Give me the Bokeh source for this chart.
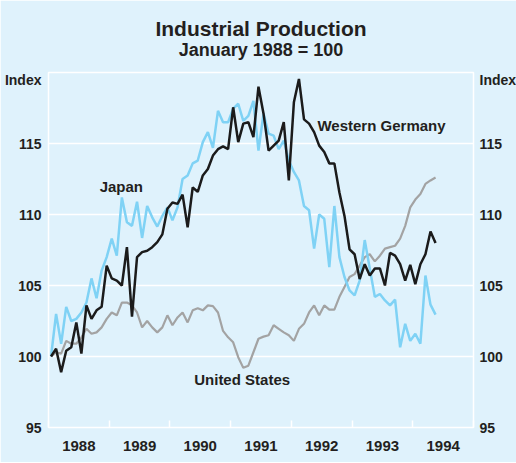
import numpy as np
from bokeh.plotting import figure
from bokeh.models import FixedTicker, LinearAxis, Label, Title, Range1d, ColumnDataSource
from bokeh.embed import file_html
from bokeh.resources import INLINE

# ---- data (monthly, Jan 1988 = 100) ----
japan = [100.0, 103.0, 100.9, 103.5, 102.5, 102.65, 103.1, 103.8, 105.5, 104.1, 106.05, 107.0,
         108.3, 107.1, 111.2, 109.45, 109.2, 110.9, 108.35, 110.6, 109.8, 109.15, 109.9, 110.5,
         109.6, 110.5, 112.5, 112.75, 113.6, 113.8, 115.1, 115.8, 114.7, 117.3, 116.5, 116.5,
         117.45, 117.8, 116.6, 116.95, 118.0, 114.5, 117.1, 115.7, 115.55, 114.6, 115.2, 113.8,
         113.0, 112.4, 110.6, 110.3, 107.6, 110.0, 109.7, 106.3, 110.6, 107.0, 105.6, 104.65,
         104.3, 105.35, 108.2, 106.2, 104.2, 104.4, 103.95, 103.6, 104.0, 100.65, 102.3, 101.1,
         101.6, 100.9, 105.7, 103.65, 102.95]
germany = [100.0, 100.55, 98.9, 100.4, 100.65, 102.4, 100.2, 103.6, 102.65, 103.25, 103.5, 106.4,
           105.5, 105.35, 105.0, 107.7, 102.8, 107.0, 107.35, 107.45, 107.7, 108.05, 108.6, 110.4,
           110.85, 110.75, 111.4, 109.1, 111.9, 111.6, 112.75, 113.2, 114.15, 114.6, 114.8, 114.6,
           117.55, 115.1, 116.4, 116.5, 115.45, 119.0, 117.1, 114.5, 114.85, 115.2, 116.5, 112.4,
           117.9, 119.55, 116.7, 116.4, 115.8, 114.85, 114.4, 113.6, 113.6, 111.55, 109.9, 107.55,
           107.2, 105.45, 106.5, 105.7, 106.2, 106.2, 105.0, 107.3, 107.1, 106.5, 105.35, 106.45,
           105.1, 106.5, 107.2, 108.8, 108.0]
us = [100.0, 100.3, 100.2, 101.1, 100.9, 100.9, 101.35, 101.95, 101.6, 101.7, 102.05, 102.65,
      103.1, 102.9, 103.8, 103.8, 103.6, 103.1, 102.05, 102.5, 102.05, 101.7, 102.05, 102.9,
      102.2, 102.75, 103.1, 102.4, 103.25, 103.4, 103.25, 103.6, 103.55, 103.1, 101.8, 101.35,
      101.0, 99.95, 99.2, 99.35, 100.3, 101.25, 101.4, 101.5, 102.2, 101.95, 101.7, 101.5,
      101.1, 101.95, 102.3, 103.1, 103.6, 102.9, 103.6, 103.3, 103.3, 104.2, 104.9, 105.6,
      105.8, 106.4, 107.0, 107.2, 106.7, 107.1, 107.6, 107.7, 107.8, 108.3, 109.2, 110.5,
      111.05, 111.45, 112.15, 112.4, 112.6]
years = [1988, 1989, 1990, 1991, 1992, 1993, 1994]
y_ticks = [95, 100, 105, 110, 115]
unit_label = "Index"

months = 1988 + (np.arange(len(japan)) + 0.5) / 12.0
src = ColumnDataSource(dict(x=months, japan=japan, germany=germany, us=us))

BG = "#dff2fc"
TXT = "#231f20"
FONT = "Liberation Sans"
UNIT_POS = 119.45  # where the "Index" heading sits on the value axes

p = figure(frame_width=425, frame_height=355,
           x_range=Range1d(1988, 1995), y_range=Range1d(95, 120),
           output_backend="svg", toolbar_location=None, title=None,
           min_border_left=48, min_border_right=43, min_border_top=72, min_border_bottom=35,
           background_fill_color=BG, border_fill_color=BG)
p.outline_line_color = "white"
p.outline_line_width = 1.5

# x axis: labels mid-year, tick marks at year boundaries
mids = [y + 0.5 for y in years]
p.xaxis.ticker = FixedTicker(ticks=mids, minor_ticks=years + [years[-1] + 1])
p.xaxis.major_label_overrides = {m: str(y) for m, y in zip(mids, years)}
p.xaxis.major_tick_in = 0
p.xaxis.major_tick_out = 0
p.xaxis.minor_tick_in = 7
p.xaxis.minor_tick_out = 0
p.xaxis.minor_tick_line_color = "white"
p.xaxis.minor_tick_line_width = 1.5
p.xaxis.axis_line_color = None
p.xaxis.major_label_standoff = 13
p.xaxis.major_label_text_font_size = "15px"

def style_y(ax, standoff):
    ax.ticker = FixedTicker(ticks=y_ticks + [UNIT_POS])
    ax.major_label_overrides = {UNIT_POS: unit_label}
    ax.major_tick_in = 0
    ax.major_tick_out = 0
    ax.minor_tick_in = 0
    ax.minor_tick_out = 0
    ax.axis_line_color = None
    ax.major_label_standoff = standoff
    ax.major_label_text_font_size = "14px"

style_y(p.yaxis[0], 7)
right = LinearAxis()
style_y(right, 6)
p.add_layout(right, "right")

for ax in [p.xaxis[0], p.yaxis[0], right]:
    ax.major_label_text_font = FONT
    ax.major_label_text_font_style = "bold"
    ax.major_label_text_color = TXT

p.xgrid.visible = False
p.ygrid.ticker = FixedTicker(ticks=y_ticks + [120])
p.ygrid.grid_line_color = "white"
p.ygrid.grid_line_width = 1.5

# titles
p.add_layout(Title(text="January 1988 = 100", align="center", text_font=FONT, standoff=26,
                   text_font_size="18px", text_font_style="bold", text_color=TXT), "above")
p.add_layout(Title(text="Industrial Production", align="center", text_font=FONT, standoff=-30,
                   text_font_size="21px", text_font_style="bold", text_color=TXT), "above")

# lines
p.line("x", "us", source=src, line_color="#a3a3a3", line_width=2.2)
p.line("x", "japan", source=src, line_color="#7fd2f5", line_width=2.5)
p.line("x", "germany", source=src, line_color="#1b1b1b", line_width=2.5)

def lab(x, y, t, align="left", size="15px"):
    p.add_layout(Label(x=x, y=y, text=t, text_align=align, text_baseline="middle",
                       text_font=FONT, text_font_style="bold", text_font_size=size,
                       text_color=TXT))

lab(1989.2, 111.97, "Japan", align="center")
lab(1992.43, 116.27, "Western Germany")
lab(1990.40, 98.38, "United States")

open("out.html", "w").write(file_html(p, INLINE))
